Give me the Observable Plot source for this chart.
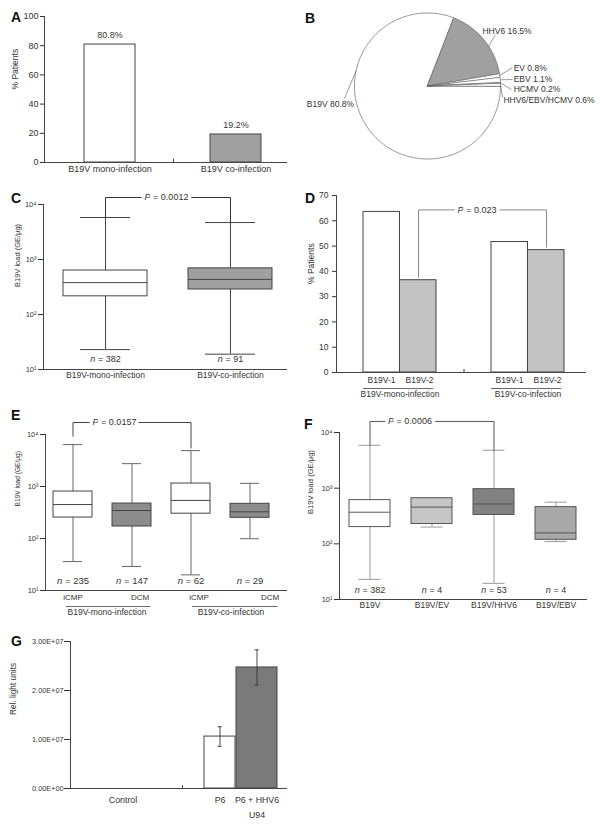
<!DOCTYPE html>
<html>
<head>
<meta charset="utf-8">
<script src="https://cdn.jsdelivr.net/npm/d3@7"></script>
<script src="https://cdn.jsdelivr.net/npm/@observablehq/plot@0.6"></script>
<style>
  html,body{margin:0;padding:0;background:#fff;}
  #root{position:relative;width:600px;height:825px;overflow:hidden;background:#fff;}
  .letter{position:absolute;font:bold 14px/14px "Liberation Sans",Arial,sans-serif;color:#111;}
</style>
</head>
<body>
<div id="root"></div>
<script>
// ---------------- DATA ----------------
// Panel A
const aCategories = ["B19V mono-infection", "B19V co-infection"];
const aPercent = [80.8, 19.2];
// Panel B
const bViruses = ["B19V", "HHV6", "EV", "EBV", "HCMV", "HHV6/EBV/HCMV"];
const bPercent = [80.8, 16.5, 0.8, 1.1, 0.2, 0.6];
// Panel C
const cGroups = ["B19V-mono-infection", "B19V-co-infection"];
const cN = [382, 91];
const cLow = [23, 19];
const cQ1 = [214, 285];
const cMedian = [380, 435];
const cQ3 = [630, 690];
const cHigh = [5800, 4700];
const cPValue = "P = 0.0012";
// Panel D
const dGroups = ["B19V-mono-infection", "B19V-co-infection"];
const dGenotypes = ["B19V-1", "B19V-2"];
const dGenotype1 = [63.5, 51.6];
const dGenotype2 = [36.5, 48.4];
const dPValue = "P = 0.023";
// Panel E
const eBoxes = ["iCMP mono", "DCM mono", "iCMP co", "DCM co"];
const eTypes = ["iCMP", "DCM", "iCMP", "DCM"];
const eInfection = ["B19V-mono-infection", "B19V-mono-infection", "B19V-co-infection", "B19V-co-infection"];
const eN = [235, 147, 62, 29];
const eLow = [36, 29, 20, 99];
const eQ1 = [253, 170, 300, 250];
const eMedian = [450, 345, 540, 326];
const eQ3 = [800, 470, 1140, 465];
const eHigh = [6400, 2750, 4900, 1150];
const ePValue = "P = 0.0157";
// Panel F
const fGroups = ["B19V", "B19V/EV", "B19V/HHV6", "B19V/EBV"];
const fN = [382, 4, 53, 4];
const fLow = [23, 200, 19.5, 110];
const fQ1 = [200, 227, 330, 118];
const fMedian = [370, 457, 520, 157];
const fQ3 = [610, 660, 960, 457];
const fHigh = [5900, 660, 4800, 560];
const fPValue = "P = 0.0006";
// Panel G
const gConditions = ["Control", "P6", "P6 + HHV6\nU94"];
const gAxisGroup = ["Control", "P6", "P6"];
const gRLU = [0, 1.06e7, 2.47e7];
const gError = [0, 0.2e7, 0.36e7];
const gTicks = [0, 1e7, 2e7, 3e7];

// ---------------- HELPERS ----------------
const FONT = 'Tahoma, "Liberation Sans", Arial, sans-serif';
const root = document.getElementById("root");
const SUP = {1: "\u00b9", 2: "\u00b2", 3: "\u00b3", 4: "\u2074"};
const logFmt = d => "10" + SUP[Math.round(Math.log10(d))];
const style = (size) => ({fontFamily: FONT, fontSize: size + "px", color: "#333", background: "transparent", overflow: "visible"});

function place(node, left, top) {
  node.style.position = "absolute";
  node.style.left = left + "px";
  node.style.top = top + "px";
  italicize(node);
  root.appendChild(node);
}
function letter(t, left, top) {
  const d = document.createElement("div");
  d.className = "letter"; d.textContent = t;
  d.style.left = left + "px"; d.style.top = top + "px";
  root.appendChild(d);
}
function italicize(svg) {
  svg.querySelectorAll("text").forEach(t => {
    if (t.children.length) return;
    const m = /^([Pn])( = .*)$/.exec(t.textContent);
    if (!m) return;
    t.textContent = "";
    const ts = document.createElementNS("http://www.w3.org/2000/svg", "tspan");
    ts.setAttribute("font-style", "italic");
    ts.textContent = m[1];
    t.appendChild(ts);
    t.appendChild(document.createTextNode(m[2]));
  });
}
function boxMarks(rows, {fill, outline, whisker, capInset}) {
  return [
    Plot.ruleX(rows, {x: "cat", y1: "low", y2: "q1", stroke: whisker, strokeWidth: 1}),
    Plot.ruleX(rows, {x: "cat", y1: "q3", y2: "high", stroke: whisker, strokeWidth: 1}),
    Plot.tickY(rows, {x: "cat", y: "low", stroke: whisker, insetLeft: capInset, insetRight: capInset}),
    Plot.tickY(rows, {x: "cat", y: "high", stroke: whisker, insetLeft: capInset, insetRight: capInset}),
    Plot.barY(rows, {x: "cat", y1: "q1", y2: "q3", fill, stroke: outline, strokeWidth: 1}),
    Plot.tickY(rows, {x: "cat", y: "median", stroke: outline, strokeWidth: 1})
  ];
}
function bracket(a, b, level, label, {stroke, textDx, fontSize = 9}) {
  const pts = [{cat: a.cat, y: a.bottom}, {cat: a.cat, y: level}, {cat: b.cat, y: level}, {cat: b.cat, y: b.bottom}];
  return [
    Plot.line(pts, {x: "cat", y: "y", stroke, strokeWidth: 1, dx: a.dx || 0}),
    Plot.text([{cat: a.cat, y: level, label}], {x: "cat", y: "y", text: "label", dx: textDx, fontSize,
      stroke: "white", strokeWidth: 7, paintOrder: "stroke", fill: "#333"})
  ];
}
function yLabel(text, dx, size, dy = 0) {
  return Plot.text([text], {text: d => d, frameAnchor: "left", rotate: -90, dx, dy, fontSize: size, fill: "#333"});
}
const boxRows = (cats, n, lo, q1, med, q3, hi) =>
  cats.map((cat, i) => ({cat, n: n[i], low: lo[i], q1: q1[i], median: med[i], q3: q3[i], high: hi[i]}));

// ---------------- PANEL A ----------------
const aRows = aCategories.map((cat, i) => ({cat, value: aPercent[i]}));
const aFill = {"B19V mono-infection": "#ffffff", "B19V co-infection": "#a0a0a0"};
place(Plot.plot({
  width: 300, height: 185, marginTop: 16, marginBottom: 23, marginLeft: 44, marginRight: 13,
  style: style(9),
  x: {type: "band", domain: aCategories, range: [83, 261], paddingInner: 0.598, paddingOuter: 0},
  y: {domain: [0, 100]},
  color: {type: "identity"},
  marks: [
    Plot.barY(aRows, {x: "cat", y: "value", fill: d => aFill[d.cat], stroke: "#444", strokeWidth: 1}),
    Plot.text(aRows, {x: "cat", y: "value", text: d => d.value.toFixed(1) + "%", dy: -9, fontSize: 9}),
    Plot.ruleY([0], {stroke: "#444"}),
    Plot.frame({anchor: "left", stroke: "#444"}),
    Plot.ruleX(aCategories.slice(0, 1), {x: d => d, dx: 63.5, y1: 0, y2: 2.2, stroke: "#444"}),
    Plot.axisY({ticks: [0, 20, 40, 60, 80, 100], tickSize: 4, tickPadding: 2, label: null}),
    Plot.axisX({tickSize: 0, tickPadding: 3.5, label: null}),
    yLabel("% Patients", -29, 8.5)
  ]
}), 0, 0);

// ---------------- PANEL B ----------------
const bRows = bViruses.map((name, i) => ({name, pct: bPercent[i]}));
const arcs = d3.pie().sort(null).value(d => d.pct)
  .startAngle(Math.PI / 2).endAngle(Math.PI / 2 + 2 * Math.PI)(bRows);
const slicePts = arcs.flatMap(a => {
  const steps = Math.max(2, Math.ceil((a.endAngle - a.startAngle) / (Math.PI / 180)));
  const pts = [{name: a.data.name, x: 0, y: 0}];
  for (let k = 0; k <= steps; k++) {
    const t = a.startAngle + (a.endAngle - a.startAngle) * k / steps;
    pts.push({name: a.data.name, x: Math.sin(t), y: Math.cos(t)});
  }
  return pts;
});
const bFill = {"HHV6": "#a0a0a0"};
// label placement (unit-circle coordinates)
const bLabelLayout = {
  "B19V": {from: 282, to: [-1.137, -0.171], at: [-1.005, -0.253], anchor: "end"},
  "HHV6": {from: 57, to: [0.93, 0.70], at: [0.753, 0.75], anchor: "start"},
  "EV": {to: [1.164, 0.253], at: [1.18, 0.24], anchor: "start"},
  "EBV": {to: [1.164, 0.089], at: [1.18, 0.089], anchor: "start"},
  "HCMV": {to: [1.15, -0.048], at: [1.18, -0.048], anchor: "start"},
  "HHV6/EBV/HCMV": {to: [1.03, -0.16], at: [1.04, -0.2], anchor: "start"}
};
const bLeaders = arcs.map(a => {
  const L = bLabelLayout[a.data.name];
  const ang = L.from != null ? L.from * Math.PI / 180 : (a.startAngle + a.endAngle) / 2;
  return {x1: Math.sin(ang), y1: Math.cos(ang), x2: L.to[0], y2: L.to[1]};
});
const bLabels = arcs.map(a => ({...bLabelLayout[a.data.name], label: `${a.data.name} ${a.data.pct}%`}));
place(Plot.plot({
  width: 300, height: 185, margin: 0,
  style: style(8.5),
  x: {domain: [-1, 1], range: [54, 200], axis: null},
  y: {domain: [-1, 1], range: [158.5, 12.5], axis: null},
  color: {type: "identity"},
  marks: [
    Plot.line(slicePts, {x: "x", y: "y", z: "name", fill: d => bFill[d.name] || "#ffffff",
      stroke: "#666", strokeWidth: 0.7, curve: "linear-closed"}),
    Plot.link(bLeaders, {x1: "x1", y1: "y1", x2: "x2", y2: "y2", stroke: "#555", strokeWidth: 0.6}),
    Plot.text(bLabels.filter(d => d.anchor === "start"), {x: d => d.at[0], y: d => d.at[1], text: "label", textAnchor: "start", fontSize: 8.5}),
    Plot.text(bLabels.filter(d => d.anchor === "end"), {x: d => d.at[0], y: d => d.at[1], text: "label", textAnchor: "end", fontSize: 8.5})
  ]
}), 300, 0);

// ---------------- PANEL C ----------------
const cRows = boxRows(cGroups, cN, cLow, cQ1, cMedian, cQ3, cHigh);
const cFill = {"B19V-mono-infection": "#ffffff", "B19V-co-infection": "#a0a0a0"};
place(Plot.plot({
  width: 300, height: 200, marginTop: 19, marginBottom: 16, marginLeft: 43, marginRight: 13,
  style: style(8.5),
  x: {type: "band", domain: cGroups, range: [63, 272], paddingInner: 0.328, paddingOuter: 0},
  y: {type: "log", domain: [10, 10000]},
  color: {type: "identity"},
  marks: [
    ...boxMarks(cRows, {fill: d => cFill[d.cat], outline: "#444", whisker: "#444", capInset: 17}),
    ...bracket({cat: cGroups[0], bottom: cHigh[0]}, {cat: cGroups[1], bottom: cHigh[1]}, 13400, cPValue, {stroke: "#333", textDx: 61}),
    Plot.text(cRows, {x: "cat", text: d => "n = " + d.n, frameAnchor: "bottom", dy: -8, fontSize: 9}),
    Plot.ruleY([10], {stroke: "#444"}),
    Plot.frame({anchor: "left", stroke: "#444"}),
    Plot.axisY({ticks: [10, 100, 1000, 10000], tickFormat: logFmt, tickSize: 5, tickPadding: 2, label: null, fontSize: 7.5}),
    Plot.axisX({tickSize: 0, tickPadding: 2.5, label: null}),
    yLabel("B19V load (GE/\u03bcg)", -26, 7.5)
  ]
}), 0, 185);

// ---------------- PANEL D ----------------
const dRows = dGroups.map((group, i) => ({group, g1: dGenotype1[i], g2: dGenotype2[i]}));
place(Plot.plot({
  width: 300, height: 222, marginTop: 10, marginBottom: 35, marginLeft: 36, marginRight: 14,
  style: style(8.5),
  x: {type: "band", domain: dGroups, range: [63, 264], paddingInner: 0.43, paddingOuter: 0, axis: null},
  y: {domain: [0, 70]},
  marks: [
    Plot.barY(dRows, {x: "group", y: "g1", fill: "#ffffff", stroke: "#444", strokeWidth: 1, insetRight: 36.5}),
    Plot.barY(dRows, {x: "group", y: "g2", fill: "#c2c2c2", stroke: "#444", strokeWidth: 1, insetLeft: 36.5}),
    Plot.line([{g: dGroups[0], y: dGenotype2[0] + 1.2}, {g: dGroups[0], y: 64.3}, {g: dGroups[1], y: 64.3}, {g: dGroups[1], y: dGenotype2[1] + 1.2}],
      {x: "g", y: "y", dx: 18.5, stroke: "#888", strokeWidth: 1}),
    Plot.text([{g: dGroups[0], y: 64.3, label: dPValue}], {x: "g", y: "y", text: "label", dx: 77, fontSize: 9,
      stroke: "white", strokeWidth: 7, paintOrder: "stroke", fill: "#333"}),
    Plot.ruleY([0], {stroke: "#444"}),
    Plot.frame({anchor: "left", stroke: "#444"}),
    Plot.ruleX(dGroups.slice(0, 1), {x: d => d, dx: 64, y1: 0, y2: 1.2, stroke: "#444"}),
    Plot.axisY({ticks: d3.range(0, 71, 10), tickSize: 4, tickPadding: 4, label: null}),
    Plot.text(dRows, {x: "group", text: () => dGenotypes[0], frameAnchor: "bottom", dy: 10, dx: -18.5, fontSize: 8.5}),
    Plot.text(dRows, {x: "group", text: () => dGenotypes[1], frameAnchor: "bottom", dy: 10, dx: 19.5, fontSize: 8.5}),
    Plot.tickY(dRows, {x: "group", y: () => 0, dy: 16, insetLeft: 0, insetRight: 3, stroke: "#444", strokeWidth: 0.8}),
    Plot.text(dRows, {x: "group", text: "group", frameAnchor: "bottom", dy: 24, fontSize: 8.5}),
    yLabel("% Patients", -25, 8.5)
  ]
}), 300, 185);

// ---------------- PANEL E ----------------
const eRows = boxRows(eBoxes, eN, eLow, eQ1, eMedian, eQ3, eHigh).map((d, i) => ({...d, type: eTypes[i], infection: eInfection[i]}));
const eFill = {"iCMP": "#ffffff", "DCM": "#8c8c8c"};
const eTypeDx = [0, 8, 8, 20];
const eGroupFirst = eRows.filter((d, i) => i === 0 || eInfection[i - 1] !== d.infection);
const eGroupLayout = [{dx: 34, insetLeft: 13, insetRight: -58.5}, {dx: 40, insetLeft: 21, insetRight: -67.5}];
place(Plot.plot({
  width: 300, height: 225, marginTop: 34, marginBottom: 35, marginLeft: 45, marginRight: 13,
  style: style(8.5),
  x: {type: "band", domain: eBoxes, range: [52, 270], paddingInner: 0.336, paddingOuter: 0, axis: null},
  y: {type: "log", domain: [10, 10000]},
  color: {type: "identity"},
  marks: [
    ...boxMarks(eRows, {fill: d => eFill[d.type], outline: "#444", whisker: "#666", capInset: 10}),
    ...bracket({cat: eBoxes[0], bottom: eHigh[0] * 1.45}, {cat: eBoxes[2], bottom: eHigh[2] * 1.12}, 17000, ePValue, {stroke: "#444", textDx: 41.5}),
    Plot.text(eRows, {x: "cat", text: d => "n = " + d.n, frameAnchor: "bottom", dy: -7, fontSize: 9.5}),
    Plot.ruleY([10], {stroke: "#444"}),
    Plot.frame({anchor: "left", stroke: "#444"}),
    Plot.axisY({ticks: [10, 100, 1000, 10000], tickFormat: logFmt, tickSize: 5, tickPadding: 2, label: null, fontSize: 7.5}),
    ...eRows.map((d, i) => Plot.text([d], {x: "cat", text: "type", frameAnchor: "bottom", dy: 9, dx: eTypeDx[i], fontSize: 8})),
    ...eGroupFirst.map((d, k) => Plot.tickY([d], {x: "cat", y: () => 10, dy: 16, insetLeft: eGroupLayout[k].insetLeft, insetRight: eGroupLayout[k].insetRight, stroke: "#444", strokeWidth: 0.8})),
    ...eGroupFirst.map((d, k) => Plot.text([d], {x: "cat", text: "infection", frameAnchor: "bottom", dy: 24, dx: eGroupLayout[k].dx, fontSize: 8.5})),
    yLabel("B19V load (GE/\u03bcg)", -28, 6.6, -6)
  ]
}), 0, 400);

// ---------------- PANEL F ----------------
const fRows = boxRows(fGroups, fN, fLow, fQ1, fMedian, fQ3, fHigh);
const fFill = {"B19V": "#ffffff", "B19V/EV": "#c6c6c6", "B19V/HHV6": "#828282", "B19V/EBV": "#a8a8a8"};
place(Plot.plot({
  width: 300, height: 215, marginTop: 27, marginBottom: 21, marginLeft: 39, marginRight: 13,
  style: style(8.5),
  x: {type: "band", domain: fGroups, range: [47, 278], paddingInner: 0.333, paddingOuter: 0},
  y: {type: "log", domain: [10, 10000]},
  color: {type: "identity"},
  marks: [
    ...boxMarks(fRows, {fill: d => fFill[d.cat], outline: "#555", whisker: "#999", capInset: 9.5}),
    ...bracket({cat: fGroups[0], bottom: fHigh[0]}, {cat: fGroups[2], bottom: fHigh[2]}, 15800, fPValue, {stroke: "#555", textDx: 40}),
    Plot.text(fRows, {x: "cat", text: d => "n = " + d.n, frameAnchor: "bottom", dy: -7, fontSize: 9}),
    Plot.ruleY([10], {stroke: "#444"}),
    Plot.frame({anchor: "left", stroke: "#444"}),
    Plot.axisY({ticks: [10, 100, 1000, 10000], tickFormat: logFmt, tickSize: 5, tickPadding: 2, label: null, fontSize: 7.5}),
    Plot.axisX({tickSize: 0, tickPadding: 2.5, label: null}),
    yLabel("B19V load (GE/\u03bcg)", -28.5, 7.6, -2)
  ]
}), 300, 405);

// ---------------- PANEL G ----------------
const gRows = gConditions.map((label, i) => ({label, group: gAxisGroup[i], value: gRLU[i], err: gError[i]}));
const gLayout = [
  {dx: 0},
  {dx: -21, insetLeft: 0, insetRight: 42, capLeft: 13.5, capRight: 55.5, fill: "#ffffff"},
  {dx: 16, insetLeft: 32, insetRight: 0, capLeft: 50.5, capRight: 18.5, fill: "#7a7a7a"}
];
const sciFmt = d => {
  const [m, e] = d.toExponential(2).split("e");
  return m + "E" + e[0] + e.slice(1).padStart(2, "0");
};
place(Plot.plot({
  width: 300, height: 200, marginTop: 16, marginBottom: 37, marginLeft: 70, marginRight: 13,
  style: style(8.5),
  x: {type: "band", domain: ["Control", "P6"], range: [85, 278], paddingInner: 0.378, paddingOuter: 0, axis: null},
  y: {domain: [0, 3e7]},
  marks: [
    ...gRows.flatMap((d, i) => d.value > 0 ? [
      Plot.barY([d], {x: "group", y: "value", fill: gLayout[i].fill, stroke: "#444", strokeWidth: 1,
        insetLeft: gLayout[i].insetLeft, insetRight: gLayout[i].insetRight}),
      Plot.ruleX([d], {x: "group", y1: r => r.value - r.err, y2: r => r.value + r.err, dx: gLayout[i].dx, stroke: "#333", strokeWidth: 0.9}),
      Plot.tickY([d], {x: "group", y: r => r.value + r.err, insetLeft: gLayout[i].capLeft, insetRight: gLayout[i].capRight, stroke: "#333", strokeWidth: 0.9}),
      Plot.tickY([d], {x: "group", y: r => r.value - r.err, insetLeft: gLayout[i].capLeft, insetRight: gLayout[i].capRight, stroke: "#333", strokeWidth: 0.9})
    ] : []),
    Plot.ruleY([0], {stroke: "#444"}),
    Plot.frame({anchor: "left", stroke: "#444"}),
    Plot.ruleX(["Control"], {x: d => d, dx: 59.5, y1: 0, y2: 6e5, stroke: "#444"}),
    Plot.axisY({ticks: gTicks, tickFormat: sciFmt, tickSize: 6, tickPadding: 1, label: null, fontSize: 7.3}),
    ...gRows.map((d, i) => Plot.text([d], {x: "group", text: "label", frameAnchor: "bottom", dy: 4.5, dx: gLayout[i].dx,
      lineAnchor: "top", lineHeight: 1.65, fontSize: 8.8})),
    yLabel("Rel. light units", -57, 8.3)
  ]
}), 0, 625);

// ---------------- PANEL LETTERS ----------------
letter("A", 11, 10);
letter("B", 305, 11);
letter("C", 11, 191);
letter("D", 305, 191);
letter("E", 11, 408);
letter("F", 304, 417);
letter("G", 11, 634);
</script>
</body>
</html>
